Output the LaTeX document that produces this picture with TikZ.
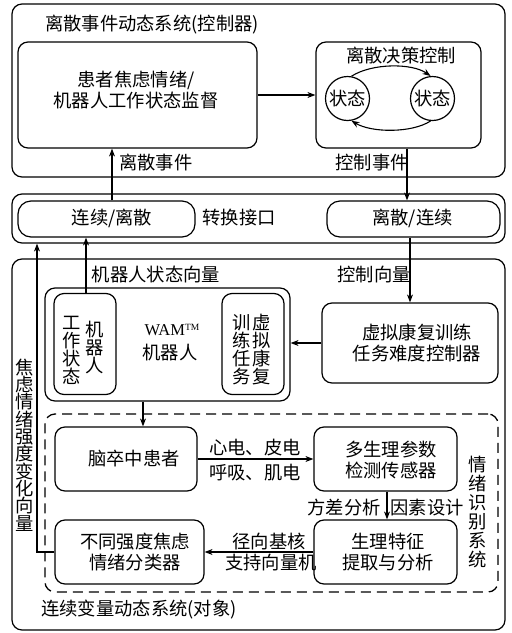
\documentclass[tikz,border=0pt]{standalone}
\usepackage{fontspec}
\setmainfont{Noto Sans CJK SC}
\newfontfamily\latfont{Liberation Serif}
\usetikzlibrary{arrows.meta}
\begin{document}
\begin{tikzpicture}[x=1pt,y=-1pt,
  box/.style={draw, line width=1.2pt, rounded corners=10pt, inner sep=0pt},
  txt/.style={font=\fontsize{18.3}{20.5}\selectfont, inner sep=0pt, align=center},
  vtxt/.style={font=\fontsize{18.3}{#1}\selectfont, inner sep=0pt, align=center},
  arr/.style={line width=1.1pt, -{Stealth[length=8pt,width=6pt]}},
  stt/.style={draw, circle, line width=1.2pt, minimum size=44pt, inner sep=0pt, font=\fontsize{18.3}{20}\selectfont},
]
\useasboundingbox[fill=white] (0,0) rectangle (512,633);
% ---------- boxes ----------
\node[box, minimum width=493pt, minimum height=173pt] (top) at (258.5,90.5) {};
\node[box, minimum width=239pt, minimum height=106pt] (mon) at (137.5,95) {};
\node[box, minimum width=165pt, minimum height=106pt] (dec) at (398.5,95) {};
\node[stt] (s1) at (347.5,98.5) {状态};
\node[stt] (s2) at (432.5,98.5) {状态};
\node[box, minimum width=493pt, minimum height=49pt] (iface) at (258.5,218.5) {};
\node[box, rounded corners=13pt, minimum width=177pt, minimum height=36pt] (c2d) at (106.5,219) {};
\node[box, rounded corners=13pt, minimum width=173pt, minimum height=36pt] (d2c) at (413.5,219) {};
\node[box, minimum width=493pt, minimum height=371pt] (bot) at (258.5,444.5) {};
\node[box, minimum width=245pt, minimum height=113pt] (wam) at (167.5,344.5) {};
\node[box, minimum width=62pt, minimum height=101pt] (rs) at (85,344) {};
\node[box, minimum width=62pt, minimum height=101pt] (vt) at (253,344) {};
\node[box, minimum width=176pt, minimum height=80pt] (ctrl) at (410,343) {};
\node[box, dash pattern=on 10pt off 6pt, line width=1.3pt, minimum width=453pt, minimum height=178pt] (dsh) at (271.5,503) {};
\node[box, minimum width=142pt, minimum height=64pt] (pat) at (126,459) {};
\node[box, minimum width=143pt, minimum height=64pt] (sen) at (385.5,459) {};
\node[box, minimum width=143pt, minimum height=64pt] (feat) at (385.5,552) {};
\node[box, minimum width=149pt, minimum height=64pt] (cls) at (129.5,552) {};
% ---------- texts ----------
\node[txt] (topT) at (152,25) {离散事件动态系统(控制器)};
\node[txt] (monT) at (136,90) {患者焦虑情绪/\\机器人工作状态监督};
\node[txt] (decT) at (401,55) {离散决策控制};
\node[txt] (deT) at (156,163) {离散事件};
\node[txt] (ceT) at (372,163) {控制事件};
\node[txt] (c2dT) at (112,218) {连续/离散};
\node[txt] (ifT) at (239,218) {转换接口};
\node[txt] (d2cT) at (412.5,218) {离散/连续};
\node[txt] (rsvT) at (156,275) {机器人状态向量};
\node[txt] (cvT) at (374,275) {控制向量};
\node[vtxt=18] (rsL) at (72,350) {工\\作\\状\\态};
\node[vtxt=18] (rsR) at (95,348) {机\\器\\人};
\node[txt] (wamT1) at (172,330) {\latfont\fontsize{16.5}{18}\selectfont WAM\raisebox{5pt}{\fontsize{9.5}{10}\selectfont TM}};
\node[txt] (wamT2) at (170,353) {机器人};
\node[vtxt=18] (vtL) at (242,350) {训\\练\\任\\务};
\node[vtxt=18] (vtR) at (262,350) {虚\\拟\\康\\复};
\node[txt] (ctrlT) at (417,343) {虚拟康复训练\\任务难度控制器};
\node[vtxt=17.3] (leftV) at (25,445) {焦\\虑\\情\\绪\\强\\度\\变\\化\\向\\量};
\node[txt] (patT) at (134,459) {脑卒中患者};
\node[txt] (senT) at (391,460) {多生理参数\\检测传感器};
\node[txt] (ecgT) at (255,448) {心电、皮电};
\node[txt] (respT) at (255,473) {呼吸、肌电};
\node[txt] (varT) at (344,508) {方差分析};
\node[txt] (facT) at (427,508) {因素设计};
\node[txt] (featT) at (388,552) {生理特征\\提取与分析};
\node[txt] (clsT) at (135,552) {不同强度焦虑\\情绪分类器};
\node[txt] (rbfT) at (269,542) {径向基核};
\node[txt] (svmT) at (271,563) {支持向量机};
\node[vtxt=19] (rightV) at (478,512) {情\\绪\\识\\别\\系\\统};
\node[txt] (botT) at (139,610) {连续变量动态系统(对象)};
% ---------- connectors ----------
\coordinate (x112) at (112,0);
\coordinate (x407) at (407,0);
\coordinate (x410) at (410,0);
\coordinate (x86) at (86,0);
\coordinate (x143) at (143,0);
\coordinate (x387) at (387,0);
\coordinate (x37) at (37,0);
\draw[arr] (mon.east) -- (dec.west);
\draw[arr] (s1.80) .. controls (372,63) and (412,63) .. (s2.95);
\draw[arr] (s2.-95) .. controls (412,133) and (372,133) .. (s1.-80);
\draw[arr] (c2d.north -| x112) -- (mon.south -| x112);
\draw[arr] (dec.south -| x407) -- (d2c.north -| x407);
\draw[arr] (d2c.south -| x410) -- (ctrl.north -| x410);
\draw[arr] (ctrl.west) -- (ctrl.west -| wam.east);
\draw[arr] (rs.north -| x86) -- (c2d.south -| x86);
\draw[arr] (wam.south -| x143) -- (pat.north -| x143);
\draw[arr] (pat.east) -- (sen.west);
\draw[arr] (sen.south -| x387) -- (feat.north -| x387);
\draw[arr] (feat.west) -- (cls.east);
\draw[arr] (cls.west) -| (x37 |- iface.south);
\end{tikzpicture}
\end{document}
